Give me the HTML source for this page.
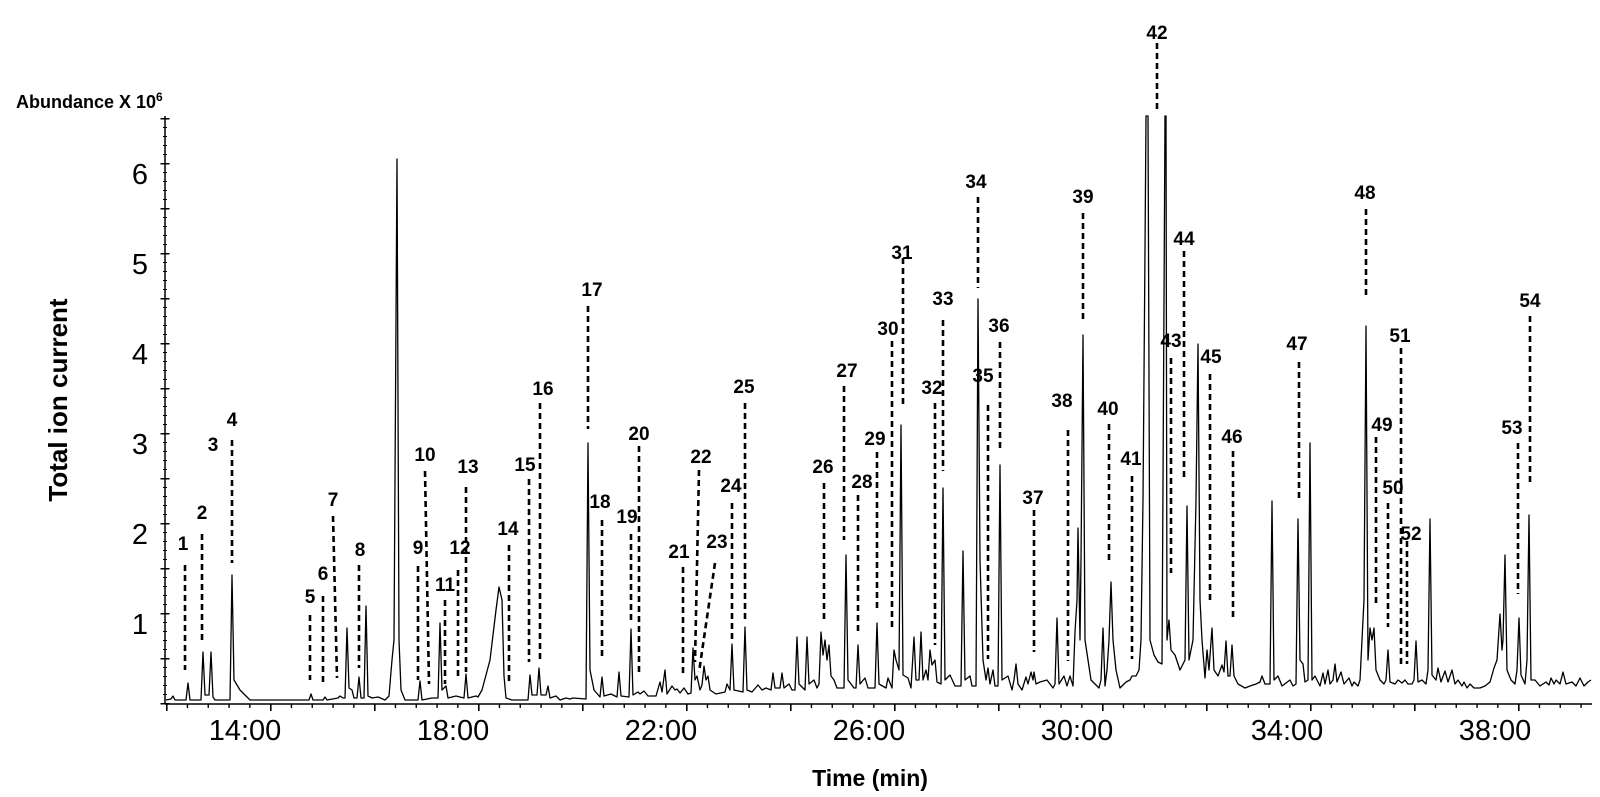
<!DOCTYPE html>
<html><head><meta charset="utf-8"><style>
html,body{margin:0;padding:0;background:#fff;}
svg{display:block;}
.t{font-family:"Liberation Sans",Arial,sans-serif;}
.pl{font-family:"Liberation Sans",Arial,sans-serif;font-weight:bold;font-size:19px;text-anchor:middle;fill:#000;}
</style></head><body>
<svg width="1600" height="797" viewBox="0 0 1600 797" xmlns="http://www.w3.org/2000/svg">
<rect width="1600" height="797" fill="#fff"/>
<g stroke="#000" fill="none">
<line x1="165" y1="116" x2="165" y2="704" stroke-width="1.5"/>
<line x1="165" y1="704" x2="1592" y2="704" stroke-width="1.5"/>
<line x1="165" y1="704" x2="165" y2="116" stroke-width="4" stroke-dasharray="1 8"/>
<line x1="165" y1="704.5" x2="165" y2="116" stroke-width="9" stroke-dasharray="1.5 43.5"/>
<line x1="166" y1="706" x2="1592" y2="706" stroke-width="1.3" stroke-dasharray="1.3 19.5" transform="translate(0,0)"/>
<line x1="166" y1="706" x2="1592" y2="706" stroke-width="4" stroke-dasharray="1.3 19.5"/>
<line x1="166" y1="707.5" x2="1592" y2="707.5" stroke-width="7" stroke-dasharray="1.6 102.4"/>
</g>
<path stroke="#000" stroke-width="1.3" fill="none" stroke-linejoin="round" d="M166 700 L171 699 L173 696 L175 700 L186 700 L188 683 L190 700 L201 700 L203 652 L205 695 L209 695 L211 652 L213 697 L215 700 L230 700 L232 575 L234 680 L240 690 L250 700 L309 700 L311 694 L313 700 L323 700 L325 697 L327 700 L338 698 L340 696 L343 698 L345 698 L347 628 L349 688 L352 690 L354 698 L357 698 L359 677 L361 698 L364 698 L366 606 L368 696 L372 698 L378 697 L385 700 L389 696 L392 660 L394 640 L397 159 L399 640 L401 690 L405 700 L418 700 L420 681 L422 700 L432 698 L438 698 L440 623 L442 690 L446 686 L448 698 L456 696 L464 698 L466 674 L468 698 L476 696 L478 697 L482 690 L490 660 L496 610 L499 587 L502 600 L504 676 L506 698 L512 700 L528 700 L530 675 L532 695 L537 695 L539 668 L541 695 L546 695 L548 686 L550 698 L556 696 L560 700
L566 698 L570 699 L573 698 L586 699 L588 443 L590 670 L594 690 L600 697 L602 677 L604 696 L611 694 L617 697 L619 672 L621 696 L629 697 L631 629 L633 695 L638 692 L640 694 L644 691 L648 696 L656 696 L660 682 L662 692 L665 670 L667 694 L672 686 L675 690 L677 689 L680 693 L684 688 L688 694 L691 693 L693 648 L695 680 L697 676 L700 690 L702 685 L704 666 L706 680 L708 676 L710 690 L716 694 L725 692 L727 684 L730 690 L732 644 L734 690 L743 692 L745 627 L747 690 L752 692 L758 685 L762 690 L766 688 L771 690 L773 673 L775 688 L780 688 L782 673 L784 688 L789 684 L792 690 L795 690 L797 637 L799 684 L803 688 L805 690 L807 637 L809 684 L814 680 L817 688 L819 684 L821 632 L823 655 L825 640 L827 660 L829 645 L831 676 L834 680 L837 688 L844 688 L846 555 L848 680 L854 688 L856 688 L858 645 L860 684 L865 678 L868 688 L875 688 L877 623 L879 684 L886 688 L888 678 L892 688 L894 650 L896 660 L899 670 L901 425 L903 675 L908 678 L911 688 L914 637 L916 680 L919 680 L921 632 L923 680 L926 670 L928 680 L930 650 L932 665 L935 660 L937 682 L941 684 L943 488 L945 680 L950 675 L955 686 L960 686
L961 686 L963 551 L965 680 L970 676 L972 686 L976 686 L978 299 L980 560 L983 660 L986 680 L988 668 L990 684 L993 670 L995 686 L998 686 L1000 465 L1002 680 L1008 676 L1012 690 L1014 680 L1016 664 L1018 684 L1022 690 L1026 677 L1028 684 L1031 672 L1033 680 L1034 672 L1036 684 L1040 682 L1047 680 L1053 688 L1055 684 L1057 618 L1059 684 L1064 676 L1067 686 L1070 676 L1073 686 L1075 632 L1077 600 L1078 528 L1080 640 L1081 560 L1083 335 L1085 640 L1088 660 L1091 680 L1095 684 L1099 688 L1101 680 L1103 628 L1105 686 L1107 670 L1109 640 L1111 582 L1113 640 L1116 670 L1120 688 L1126 682 L1130 680 L1132 676 L1136 676 L1139 670 L1141 640 L1143 500 L1145 250 L1146 116 L1148 116 L1150 640 L1154 655 L1158 662 L1162 664 L1164 300 L1165 116 L1166 116 L1167 640 L1169 620 L1171 650 L1175 655 L1180 670 L1185 660 L1187 506 L1189 660 L1193 640 L1196 500 L1198 344 L1200 600 L1202 640 L1205 678 L1207 650 L1209 670 L1212 628 L1214 670 L1218 676 L1222 665 L1224 672 L1226 641 L1228 676 L1230 676 L1232 645 L1234 676 L1238 684 L1245 688 L1250 686 L1256 684 L1260 682 L1262 676 L1265 684 L1270 684 L1272 501 L1274 680 L1278 676 L1282 686 L1290 680 L1293 686 L1296 684 L1298 519 L1300 660 L1303 664 L1305 682 L1308 680 L1310 443 L1312 680 L1315 676 L1320 686 L1323 673 L1325 684 L1328 670 L1330 684 L1333 680 L1335 664 L1337 682 L1341 672 L1344 684 L1349 678 L1352 686 L1354 682 L1358 686
L1360 680 L1364 600 L1366 326 L1368 660 L1370 628 L1372 640 L1374 628 L1376 670 L1380 680 L1384 684 L1386 680 L1388 650 L1390 682 L1395 684 L1398 680 L1402 683 L1405 680 L1408 684 L1412 684 L1414 680 L1416 641 L1418 682 L1422 680 L1426 684 L1428 670 L1430 519 L1432 675 L1436 680 L1438 668 L1441 682 L1445 671 L1448 682 L1452 670 L1455 684 L1458 680 L1462 686 L1464 682 L1467 688 L1470 684 L1474 688 L1480 688 L1485 686 L1490 682 L1494 668 L1497 660 L1500 614 L1502 650 L1503 640 L1505 555 L1507 670 L1511 680 L1515 684 L1517 670 L1519 618 L1521 675 L1525 684 L1527 660 L1529 515 L1531 680 L1535 680 L1540 686 L1546 682 L1549 685 L1551 678 L1554 684 L1556 680 L1560 684 L1563 672 L1566 684 L1572 682 L1576 686 L1580 678 L1584 686 L1588 682 L1591 680"/>
<g stroke="#000" stroke-width="2.6" stroke-dasharray="6,4" fill="none">
<line x1="185" y1="565" x2="185" y2="670"/><line x1="202" y1="534" x2="202" y2="641"/><line x1="232" y1="440" x2="232" y2="563"/>
<line x1="310" y1="615" x2="310" y2="680"/><line x1="323" y1="596" x2="323" y2="685"/><line x1="333" y1="516" x2="337" y2="678"/>
<line x1="359" y1="565" x2="359" y2="668"/><line x1="418" y1="566" x2="418" y2="680"/><line x1="425" y1="471" x2="429" y2="684"/>
<line x1="445" y1="600" x2="445" y2="684"/><line x1="458" y1="570" x2="458" y2="676"/><line x1="466" y1="487" x2="466" y2="672"/>
<line x1="509" y1="545" x2="509" y2="684"/><line x1="529" y1="479" x2="529" y2="662"/><line x1="540" y1="403" x2="540" y2="660"/>
<line x1="588" y1="306" x2="588" y2="429"/><line x1="602" y1="520" x2="602" y2="660"/><line x1="631" y1="534" x2="631" y2="623"/>
<line x1="639" y1="446" x2="639" y2="676"/><line x1="683" y1="567" x2="683" y2="674"/><line x1="699" y1="470" x2="695" y2="662"/>
<line x1="715" y1="563" x2="699" y2="672"/><line x1="732" y1="503" x2="732" y2="641"/><line x1="745" y1="403" x2="745" y2="621"/>
<line x1="824" y1="483" x2="824" y2="621"/><line x1="844" y1="386" x2="844" y2="540"/><line x1="858" y1="495" x2="858" y2="633"/>
<line x1="877" y1="452" x2="877" y2="610"/><line x1="892" y1="341" x2="892" y2="631"/><line x1="903" y1="258" x2="903" y2="407"/>
<line x1="935" y1="403" x2="935" y2="645"/><line x1="943" y1="320" x2="943" y2="471"/><line x1="978" y1="197" x2="978" y2="288"/>
<line x1="988" y1="405" x2="988" y2="659"/><line x1="1000" y1="342" x2="1000" y2="451"/><line x1="1034" y1="510" x2="1034" y2="652"/>
<line x1="1068" y1="430" x2="1068" y2="661"/><line x1="1083" y1="213" x2="1083" y2="322"/><line x1="1109" y1="424" x2="1109" y2="564"/>
<line x1="1132" y1="476" x2="1132" y2="659"/><line x1="1157" y1="43" x2="1157" y2="109"/><line x1="1171" y1="358" x2="1171" y2="573"/>
<line x1="1184" y1="251" x2="1184" y2="480"/><line x1="1210" y1="374" x2="1210" y2="602"/><line x1="1233" y1="451" x2="1233" y2="618"/>
<line x1="1299" y1="362" x2="1299" y2="501"/><line x1="1366" y1="209" x2="1366" y2="298"/><line x1="1376" y1="437" x2="1376" y2="607"/>
<line x1="1388" y1="503" x2="1388" y2="627"/><line x1="1401" y1="348" x2="1401" y2="664"/><line x1="1407" y1="541" x2="1407" y2="664"/>
<line x1="1518" y1="443" x2="1518" y2="594"/><line x1="1530" y1="316" x2="1530" y2="484"/>
</g>
<text class="t" x="16" y="108" font-size="18" font-weight="bold">Abundance X 10<tspan font-size="12" dy="-7">6</tspan></text>
<text class="t" transform="translate(67,400) rotate(-90)" font-size="26" font-weight="bold" text-anchor="middle">Total ion current</text>
<g class="t" font-size="29" text-anchor="end">
<text x="148" y="634">1</text><text x="148" y="544">2</text><text x="148" y="454">3</text>
<text x="148" y="364">4</text><text x="148" y="274">5</text><text x="148" y="184">6</text>
</g>
<g class="t" font-size="29" text-anchor="middle">
<text x="245" y="740">14:00</text><text x="453" y="740">18:00</text><text x="661" y="740">22:00</text>
<text x="869" y="740">26:00</text><text x="1077" y="740">30:00</text><text x="1287" y="740">34:00</text>
<text x="1495" y="740">38:00</text>
</g>
<text class="t" x="870" y="786" font-size="23" font-weight="bold" text-anchor="middle">Time (min)</text>
<g>
<text class="pl" x="183" y="550">1</text><text class="pl" x="202" y="519">2</text><text class="pl" x="213" y="451">3</text><text class="pl" x="232" y="426">4</text>
<text class="pl" x="310" y="603">5</text><text class="pl" x="323" y="580">6</text><text class="pl" x="333" y="506">7</text><text class="pl" x="360" y="556">8</text>
<text class="pl" x="418" y="554">9</text><text class="pl" x="425" y="461">10</text><text class="pl" x="445" y="591">11</text><text class="pl" x="460" y="554">12</text>
<text class="pl" x="468" y="473">13</text><text class="pl" x="508" y="535">14</text><text class="pl" x="525" y="471">15</text><text class="pl" x="543" y="395">16</text>
<text class="pl" x="592" y="296">17</text><text class="pl" x="600" y="508">18</text><text class="pl" x="627" y="523">19</text><text class="pl" x="639" y="440">20</text>
<text class="pl" x="679" y="558">21</text><text class="pl" x="701" y="463">22</text><text class="pl" x="717" y="548">23</text><text class="pl" x="731" y="492">24</text>
<text class="pl" x="744" y="393">25</text><text class="pl" x="823" y="473">26</text><text class="pl" x="847" y="377">27</text><text class="pl" x="862" y="488">28</text>
<text class="pl" x="875" y="445">29</text><text class="pl" x="888" y="335">30</text><text class="pl" x="902" y="259">31</text><text class="pl" x="932" y="394">32</text>
<text class="pl" x="943" y="305">33</text><text class="pl" x="976" y="188">34</text><text class="pl" x="983" y="382">35</text><text class="pl" x="999" y="332">36</text>
<text class="pl" x="1033" y="504">37</text><text class="pl" x="1062" y="407">38</text><text class="pl" x="1083" y="203">39</text><text class="pl" x="1108" y="415">40</text>
<text class="pl" x="1131" y="465">41</text><text class="pl" x="1157" y="39">42</text><text class="pl" x="1171" y="347">43</text><text class="pl" x="1184" y="245">44</text>
<text class="pl" x="1211" y="363">45</text><text class="pl" x="1232" y="443">46</text><text class="pl" x="1297" y="350">47</text><text class="pl" x="1365" y="199">48</text>
<text class="pl" x="1382" y="431">49</text><text class="pl" x="1393" y="494">50</text><text class="pl" x="1400" y="342">51</text><text class="pl" x="1411" y="540">52</text>
<text class="pl" x="1512" y="434">53</text><text class="pl" x="1530" y="307">54</text>
</g>
</svg>
</body></html>
